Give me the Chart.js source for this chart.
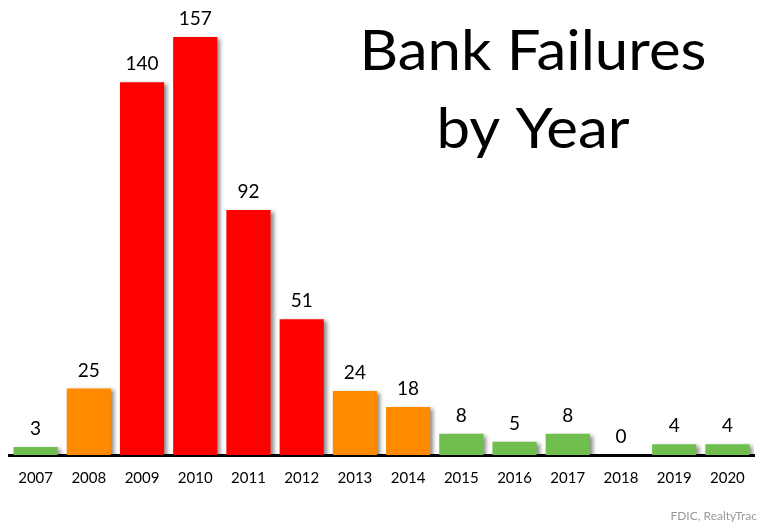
<!DOCTYPE html>
<html>
<head>
<meta charset="utf-8">
<script src="https://cdn.jsdelivr.net/npm/chart.js@4/dist/chart.umd.min.js"></script>
<style>
  html, body { margin: 0; padding: 0; background: #ffffff; }
  #wrap { width: 771px; height: 522px; position: relative; }
</style>
</head>
<body>
<div id="wrap"><canvas id="chart"></canvas></div>
<script>
// Bank failures per year (FDIC)
const years = ['2007','2008','2009','2010','2011','2012','2013','2014','2015','2016','2017','2018','2019','2020'];
const failures = [3, 25, 140, 157, 92, 51, 24, 18, 8, 5, 8, 0, 4, 4];
const barColors = ['#70BF4E','#FF8A00','#FF0000','#FF0000','#FF0000','#FF0000','#FF8A00','#FF8A00',
                   '#70BF4E','#70BF4E','#70BF4E','#70BF4E','#70BF4E','#70BF4E'];
const titleLines = ['Bank Failures', 'by Year'];
const sourceNote = 'FDIC, RealtyTrac';

const FONT = 'Lato, "Open Sans", "Noto Sans", sans-serif';

// soft drop shadow behind the bars only
const barShadow = {
  id: 'barShadow',
  beforeDatasetsDraw(chart) {
    const ctx = chart.ctx;
    ctx.save();
    ctx.shadowColor = 'rgba(0,0,0,0.45)';
    ctx.shadowBlur = 4;
    ctx.shadowOffsetX = 3;
    ctx.shadowOffsetY = 2;
  },
  afterDatasetsDraw(chart) {
    chart.ctx.restore();
  }
};

// value printed above each bar
const valueLabels = {
  id: 'valueLabels',
  afterDatasetsDraw(chart) {
    const ctx = chart.ctx;
    const meta = chart.getDatasetMeta(0);
    ctx.save();
    ctx.font = '19px ' + FONT;
    ctx.fillStyle = '#000';
    ctx.textAlign = 'center';
    ctx.textBaseline = 'middle';
    meta.data.forEach((bar, i) => {
      ctx.fillText(String(failures[i]), bar.x, bar.y - 18);
    });
    ctx.restore();
  }
};

// large heading and source note
const heading = {
  id: 'heading',
  afterDraw(chart) {
    const ctx = chart.ctx;
    ctx.save();
    ctx.fillStyle = '#000';
    ctx.textAlign = 'center';
    ctx.textBaseline = 'alphabetic';
    ctx.font = '57px ' + FONT;
    const sx = 347 / ctx.measureText(titleLines[0]).width;
    ctx.translate(533, 0);
    ctx.scale(sx, 1);
    ctx.fillText(titleLines[0], 0, 70);
    ctx.fillText(titleLines[1], 0, 148);
    ctx.restore();

    ctx.save();
    ctx.font = '12px ' + FONT;
    ctx.fillStyle = '#9a9a9a';
    ctx.textAlign = 'right';
    ctx.textBaseline = 'middle';
    ctx.fillText(sourceNote, 757, 516);
    ctx.restore();
  }
};

new Chart(document.getElementById('chart'), {
  type: 'bar',
  data: {
    labels: years,
    datasets: [{
      data: failures,
      backgroundColor: barColors,
      borderWidth: 0,
      categoryPercentage: 1.0,
      barPercentage: 0.83
    }]
  },
  options: {
    responsive: true,
    maintainAspectRatio: false,
    animation: false,
    layout: { padding: { left: 9, right: 17, top: 29, bottom: 21 } },
    plugins: {
      legend: { display: false },
      tooltip: { enabled: false },
      title: { display: false }
    },
    scales: {
      x: {
        grid: { display: false, drawTicks: false },
        border: { display: true, color: '#000', width: 3 },
        ticks: { color: '#000', padding: 14, font: { family: FONT, size: 15 } }
      },
      y: {
        display: false,
        min: 0,
        max: 160
      }
    }
  },
  plugins: [barShadow, valueLabels, heading]
});
</script>
</body>
</html>
